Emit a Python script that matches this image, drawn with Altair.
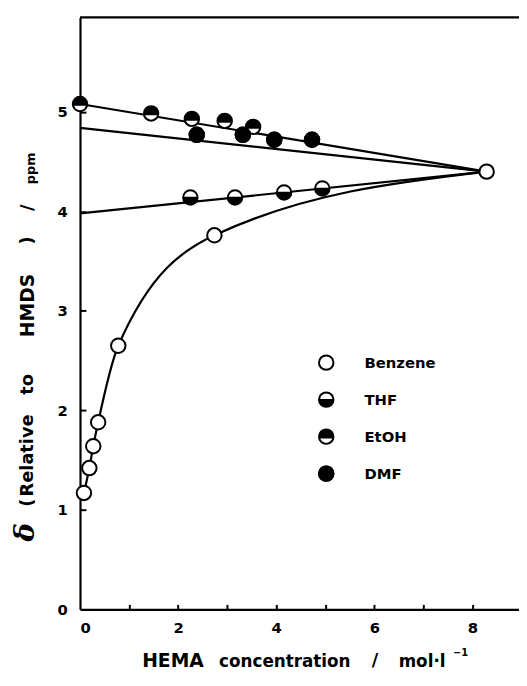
import altair as alt
import pandas as pd

# ---- data ----
benzene_x = [0.08, 0.19, 0.27, 0.37, 0.78, 2.74, 8.29]
benzene_y = [1.17, 1.42, 1.64, 1.88, 2.65, 3.76, 4.40]

thf_x = [2.25, 3.16, 4.16, 4.94]
thf_y = [4.14, 4.14, 4.19, 4.23]

etoh_x = [0.0, 1.45, 2.28, 2.95, 3.53]
etoh_y = [5.08, 4.985, 4.93, 4.91, 4.85]

dmf_x = [2.38, 3.32, 3.96, 4.73]
dmf_y = [4.77, 4.77, 4.72, 4.72]

# fitted straight lines (start at x=0, end at pure-HEMA point)
fit_names = ["THF", "EtOH", "DMF"]
fit_x = [0.0, 8.29]
fit_y0 = [3.98, 5.08, 4.84]
fit_y1 = [4.40, 4.40, 4.40]

legend_names = ["Benzene", "THF", "EtOH", "DMF"]
x_ticks = [1, 2, 3, 4, 5, 6, 7, 8]
x_labels = [0, 2, 4, 6, 8]
y_ticks = [1, 2, 3, 4, 5]
y_labels = [0, 1, 2, 3, 4, 5]

# ---- layout ----
W, H = 445, 600
XMAX, YMAX = 8.95, 5.95
FONT = "DejaVu Sans"
SIZE = 215

xs = alt.Scale(domain=[0, XMAX], nice=False, zero=False)
ys = alt.Scale(domain=[0, YMAX], nice=False, zero=False)

pts = pd.concat([
    pd.DataFrame({"series": "Benzene", "x": benzene_x, "y": benzene_y}),
    pd.DataFrame({"series": "THF", "x": thf_x, "y": thf_y}),
    pd.DataFrame({"series": "EtOH", "x": etoh_x, "y": etoh_y}),
    pd.DataFrame({"series": "DMF", "x": dmf_x, "y": dmf_y}),
], ignore_index=True)

fit_rows = []
for n, a, b in zip(fit_names, fit_y0, fit_y1):
    fit_rows.append({"series": n, "x": fit_x[0], "y": a})
    fit_rows.append({"series": n, "x": fit_x[1], "y": b})
fits = pd.DataFrame(fit_rows)

benz = pd.DataFrame({"x": benzene_x, "y": benzene_y})

LEG_X, LEG_Y0, LEG_STEP, LEG_TX = 5.02, 2.48, 0.372, 5.80
leg = pd.DataFrame({
    "series": legend_names,
    "x": [LEG_X] * len(legend_names),
    "y": [LEG_Y0 - i * LEG_STEP for i in range(len(legend_names))],
    "tx": [LEG_TX] * len(legend_names),
})

symbols = pd.concat([pts, leg[["series", "x", "y"]]], ignore_index=True)


def X(**kw):
    return alt.X("x:Q", scale=xs, **kw)


def Y(**kw):
    return alt.Y("y:Q", scale=ys, **kw)


# layer A: fitted lines carrying the labelled axes
lines = alt.Chart(fits).mark_line(color="black", strokeWidth=2.2).encode(
    x=X(axis=alt.Axis(orient="bottom", values=x_labels, ticks=False, tickSize=0,
                      domain=True, domainColor="black", domainWidth=2.2,
                      labelFont=FONT, labelFontSize=15, labelFontWeight="bold",
                      labelColor="black", labelPadding=11, grid=False, title=None,
                      format="d")),
    y=Y(axis=alt.Axis(orient="left", values=y_labels, ticks=False, tickSize=0,
                      domain=True, domainColor="black", domainWidth=2.2,
                      labelFont=FONT, labelFontSize=15, labelFontWeight="bold",
                      labelColor="black", labelPadding=13, grid=False, title=None,
                      format="d")),
    detail="series:N",
)

# layer B: benzene curve carrying the inward ticks
curve = alt.Chart(benz).mark_line(color="black", strokeWidth=2.2, interpolate="monotone").encode(
    x=X(axis=alt.Axis(orient="top", offset=-H, values=x_ticks, ticks=True, tickSize=5,
                      tickWidth=2, tickColor="black", labels=False, domain=False,
                      grid=False, title=None)),
    y=Y(axis=alt.Axis(orient="right", offset=-W, values=y_ticks, ticks=True, tickSize=6,
                      tickWidth=2, tickColor="black", labels=False, domain=False,
                      grid=False, title=None)),
)

# top frame line
frame = alt.Chart(pd.DataFrame({"k": [0]})).mark_rule(color="black", strokeWidth=2.2).encode(
    x=alt.value(0), x2=alt.value(W), y=alt.value(0)
)

# symbols
base_sym = alt.Chart(symbols).mark_point(
    shape="circle", filled=True, fill="white", stroke="black", strokeWidth=2, size=SIZE, opacity=1
).encode(x=X(axis=None), y=Y(axis=None))

THF_PATH = "M -0.995 -0.1 A 1 1 0 1 0 0.995 -0.1 Z"
ETOH_PATH = "M -0.968 0.25 A 1 1 0 1 1 0.968 0.25 Z"

thf_sym = alt.Chart(symbols).transform_filter(alt.datum.series == "THF").mark_point(
    shape=THF_PATH, filled=True, fill="black", strokeWidth=0, size=SIZE, opacity=1
).encode(x=X(axis=None), y=Y(axis=None))

etoh_sym = alt.Chart(symbols).transform_filter(alt.datum.series == "EtOH").mark_point(
    shape=ETOH_PATH, filled=True, fill="black", strokeWidth=0, size=SIZE, opacity=1
).encode(x=X(axis=None), y=Y(axis=None))

dmf_sym = alt.Chart(symbols).transform_filter(alt.datum.series == "DMF").mark_point(
    shape="circle", filled=True, fill="black", stroke="black", strokeWidth=2, size=SIZE, opacity=1
).encode(x=X(axis=None), y=Y(axis=None))

leg_text = alt.Chart(leg).mark_text(
    align="left", baseline="middle", font=FONT, fontSize=15, fontWeight="bold", color="black"
).encode(x=alt.X("tx:Q", scale=xs, axis=None), y=Y(axis=None), text="series:N")

# axis titles as text
def txt(s, x, y, size, angle=0, align="center", style="normal", font=FONT):
    return alt.Chart(pd.DataFrame({"t": [s]})).mark_text(
        align=align, baseline="middle", font=font, fontSize=size, fontWeight="bold",
        fontStyle=style, color="black", angle=angle
    ).encode(x=alt.value(x), y=alt.value(y), text="t:N")

titles = [
    txt("HEMA", 63, 652, 19, align="left"),
    txt("concentration", 141, 653, 17, align="left"),
    txt("/", 299, 652, 18),
    txt("mol·l", 323, 653, 17, align="left"),
    txt("−1", 378, 644, 10, align="left"),
    txt("δ", -55, 522, 28, angle=270, style="italic", font="DejaVu Serif"),
    txt("(", -53, 492, 18, angle=270),
    txt("Relative", -53, 444, 18, angle=270),
    txt("to", -53, 372, 18, angle=270),
    txt("HMDS", -53, 292, 19, angle=270),
    txt(")", -53, 226, 18, angle=270),
    txt("/", -53, 193, 18, angle=270),
    txt("ppm", -50, 153, 13, angle=270),
]

chart = alt.layer(
    lines, curve, frame, base_sym, thf_sym, etoh_sym, dmf_sym, leg_text, *titles
).resolve_axis(x="independent", y="independent").properties(
    width=W, height=H,
    padding={"left": 73, "top": 5, "right": 0, "bottom": 62},
    autosize=alt.AutoSizeParams(type="none"),
).configure_view(stroke=None)

chart.save("out.html", embed_options={"renderer": "svg", "actions": False})
